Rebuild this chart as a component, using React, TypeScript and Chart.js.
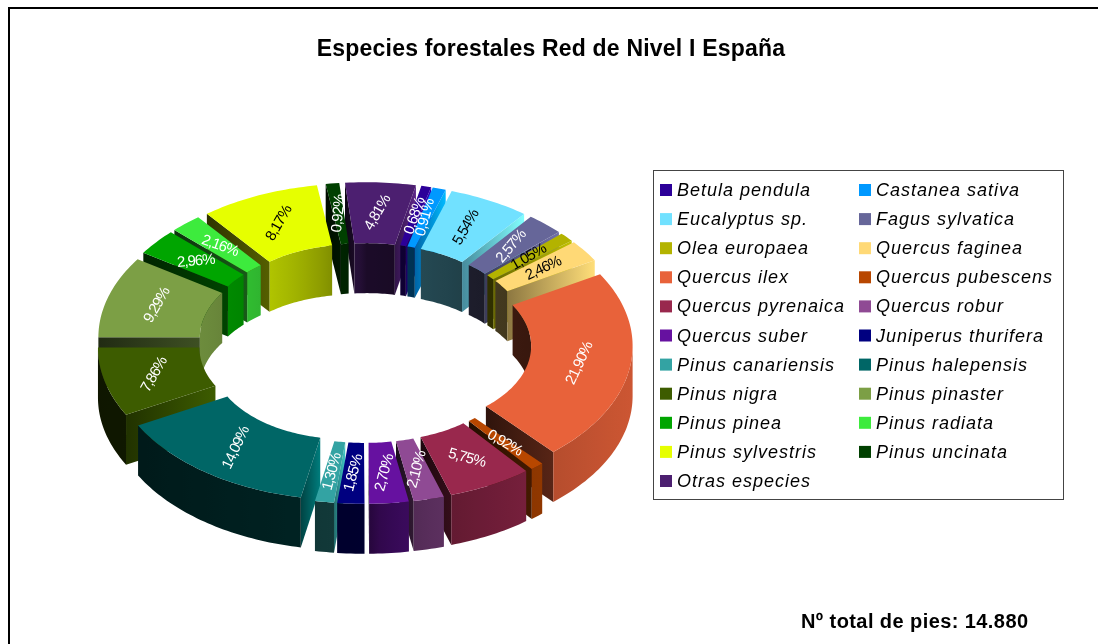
import React, { useEffect, useRef } from "react";
import { Chart, registerables } from "chart.js";

Chart.register(...registerables);

const species = [
  "Betula pendula", "Castanea sativa", "Eucalyptus sp.", "Fagus sylvatica", "Olea europaea",
  "Quercus faginea", "Quercus ilex", "Quercus pubescens", "Quercus pyrenaica", "Quercus robur",
  "Quercus suber", "Juniperus thurifera", "Pinus canariensis", "Pinus halepensis", "Pinus nigra",
  "Pinus pinaster", "Pinus pinea", "Pinus radiata", "Pinus sylvestris", "Pinus uncinata", "Otras especies",
];
const percentages = [
  0.68, 0.91, 5.54, 2.57, 1.05, 2.46, 21.9, 0.92, 5.75, 2.1, 2.7, 1.85, 1.3, 14.09, 7.86, 9.29, 2.96, 2.16, 8.17, 0.92, 4.81,
];
const colors = [
  "#2C0099", "#0099FF", "#71E1FF", "#666699", "#B3B300", "#FFD976", "#E8623A", "#B84700", "#99284D", "#8F4A94",
  "#6611A0", "#000080", "#33A3A3", "#006666", "#3D5C00", "#7C9F45", "#00A500", "#3DEB3D", "#E6FF00", "#004000", "#4C1F70",
];
const labelColors = [
  "#fff", "#fff", "#000", "#fff", "#000", "#000", "#fff", "#fff", "#fff", "#fff",
  "#fff", "#fff", "#fff", "#fff", "#fff", "#fff", "#fff", "#fff", "#000", "#fff", "#fff",
];
const labelTilts = [
  -72, -75, -60, -50, -30, -25, -65, 30, 15, -75, -75, -75, -75, -65, -60, -60, -5, 20, -60, -85, -60,
];
const title = "Especies forestales Red de Nivel I España";
const footnote = "Nº total de pies: 14.880";

const CX = 365, CY = 343, SY = 0.6, DEPTH = 50;

function shade(hex: string, b: number) {
  const n = parseInt(hex.slice(1), 16);
  const c = (v: number) => Math.max(0, Math.min(255, Math.round(v * b)));
  return `rgb(${c((n >> 16) & 255)},${c((n >> 8) & 255)},${c(n & 255)})`;
}
function brightness(nx: number) {
  return nx > 0 ? 0.36 + 0.52 * Math.sqrt(nx) : 0.36 + 0.12 * nx;
}

const ring3d = {
  id: "ring3d",
  beforeDatasetsDraw(chart: any) {
    const ctx = chart.ctx as CanvasRenderingContext2D;
    const arcs = chart.getDatasetMeta(0).data as any[];
    const slices = arcs.map((arc, i) => {
      const p = arc.getProps(["startAngle", "endAngle", "innerRadius", "outerRadius"], true);
      const mid = (p.startAngle + p.endAngle) / 2;
      const off = arc.options.offset || 0;
      return { i, ...p, mid, ox: Math.cos(mid) * off, oy: Math.sin(mid) * off };
    });
    slices.sort((a, b) => Math.sin(a.mid) * a.outerRadius - Math.sin(b.mid) * b.outerRadius);

    for (const s of slices) {
      const col = colors[s.i];
      const pt = (r: number, a: number, z: number): [number, number] => [
        CX + s.ox + r * Math.cos(a),
        CY + SY * (s.oy + r * Math.sin(a)) + z,
      ];
      const n = Math.max(2, Math.ceil((s.endAngle - s.startAngle) / 0.02));
      const da = (s.endAngle - s.startAngle) / n;
      const flat = (q: [number, number][], b: number) => {
        ctx.beginPath();
        q.forEach((v, k) => (k ? ctx.lineTo(v[0], v[1]) : ctx.moveTo(v[0], v[1])));
        ctx.closePath();
        const xs = q.map((v) => v[0]);
        const x0 = Math.min(...xs), x1 = Math.max(...xs);
        const g = ctx.createLinearGradient(x0, 0, Math.max(x1, x0 + 1), 0);
        g.addColorStop(0, shade(col, b * 0.75));
        g.addColorStop(1, shade(col, b * 1.4));
        ctx.fillStyle = g;
        ctx.fill();
      };
      // curved wall: brightness depends on the normal, and the normal on x only
      const curved = (r: number, sign: number, a0: number, a1: number) => {
        if (a1 <= a0) return;
        const steps = Math.max(2, Math.ceil((a1 - a0) / 0.02));
        ctx.beginPath();
        for (let k = 0; k <= steps; k++) {
          const v = pt(r, a0 + ((a1 - a0) * k) / steps, 0);
          k ? ctx.lineTo(v[0], v[1]) : ctx.moveTo(v[0], v[1]);
        }
        for (let k = steps; k >= 0; k--) {
          const v = pt(r, a0 + ((a1 - a0) * k) / steps, DEPTH);
          ctx.lineTo(v[0], v[1]);
        }
        ctx.closePath();
        const x0 = CX + s.ox - r, x1 = CX + s.ox + r;
        const g = ctx.createLinearGradient(x0, 0, x1, 0);
        for (let k = 0; k <= 40; k++) {
          const t = k / 40;
          g.addColorStop(t, shade(col, brightness(sign * (2 * t - 1))));
        }
        ctx.fillStyle = g;
        ctx.fill();
      };
      // visible range helpers: rim faces the viewer where sin(a) > 0, hole wall where sin(a) < 0
      const clipRange = (wantPositive: boolean): [number, number][] => {
        const out: [number, number][] = [];
        let cur: number | null = null;
        const N = 200;
        for (let k = 0; k <= N; k++) {
          const a = s.startAngle + ((s.endAngle - s.startAngle) * k) / N;
          const ok = wantPositive ? Math.sin(a) > 0 : Math.sin(a) < 0;
          if (ok && cur === null) cur = a;
          if ((!ok || k === N) && cur !== null) {
            out.push([cur, a]);
            cur = null;
          }
        }
        return out;
      };
      clipRange(false).forEach(([a0, a1]) => curved(s.innerRadius, -1, a0, a1));
      const startN = s.startAngle - Math.PI / 2;
      const endN = s.endAngle + Math.PI / 2;
      if (Math.sin(startN) > 0) {
        flat([pt(s.innerRadius, s.startAngle, 0), pt(s.outerRadius, s.startAngle, 0), pt(s.outerRadius, s.startAngle, DEPTH), pt(s.innerRadius, s.startAngle, DEPTH)], brightness(Math.cos(startN)));
      }
      if (Math.sin(endN) > 0) {
        flat([pt(s.innerRadius, s.endAngle, 0), pt(s.outerRadius, s.endAngle, 0), pt(s.outerRadius, s.endAngle, DEPTH), pt(s.innerRadius, s.endAngle, DEPTH)], brightness(Math.cos(endN)));
      }
      clipRange(true).forEach(([a0, a1]) => curved(s.outerRadius, 1, a0, a1));
      // top face
      ctx.beginPath();
      for (let k = 0; k <= n; k++) {
        const v = pt(s.outerRadius, s.startAngle + k * da, 0);
        k ? ctx.lineTo(v[0], v[1]) : ctx.moveTo(v[0], v[1]);
      }
      for (let k = n; k >= 0; k--) {
        const v = pt(s.innerRadius, s.startAngle + k * da, 0);
        ctx.lineTo(v[0], v[1]);
      }
      ctx.closePath();
      ctx.fillStyle = col;
      ctx.fill();
    }

    // value labels lying on the top faces
    ctx.save();
    ctx.font = '15px "Liberation Sans"';
    (ctx as any).letterSpacing = "-1px";
    ctx.textAlign = "center";
    ctx.textBaseline = "middle";
    for (const s of [...slices].sort((a, b) => a.i - b.i)) {
      const r = (s.innerRadius + s.outerRadius) / 2;
      const x = CX + s.ox + r * Math.cos(s.mid);
      const y = CY + SY * (s.oy + r * Math.sin(s.mid));
      ctx.save();
      ctx.translate(x, y);
      ctx.rotate((labelTilts[s.i] * Math.PI) / 180);
      ctx.fillStyle = labelColors[s.i];
      ctx.fillText(percentages[s.i].toFixed(2).replace(".", ",") + "%", 0, 0);
      ctx.restore();
    }
    ctx.restore();
    return false;
  },
  afterDraw(chart: any) {
    const ctx = chart.ctx as CanvasRenderingContext2D;
    ctx.save();
    // page frame
    ctx.fillStyle = "#000";
    ctx.fillRect(8, 7, 1090, 2);
    ctx.fillRect(8, 7, 2, 637);
    // title
    ctx.textBaseline = "middle";
    ctx.textAlign = "center";
    ctx.font = 'bold 23px "Liberation Sans"';
    (ctx as any).letterSpacing = "0.2px";
    ctx.fillText(title, 551, 50);
    // footnote
    ctx.textAlign = "left";
    ctx.font = 'bold 20px "Liberation Sans"';
    (ctx as any).letterSpacing = "0.42px";
    ctx.fillText(footnote, 801, 622);
    // legend
    ctx.strokeStyle = "#444";
    ctx.lineWidth = 1;
    ctx.strokeRect(653.5, 170.5, 410, 329);
    ctx.font = 'italic 18px "Liberation Sans"';
    (ctx as any).letterSpacing = "1px";
    species.forEach((name, i) => {
      const col = i % 2;
      const row = Math.floor(i / 2);
      const y = 190 + row * 29.1;
      const x = col ? 859 : 660;
      ctx.fillStyle = colors[i];
      ctx.fillRect(x, y - 6, 12, 12);
      ctx.fillStyle = "#000";
      ctx.fillText(name, x + 17, y + 1);
    });
    ctx.restore();
  },
};

export default function App() {
  const ref = useRef<HTMLCanvasElement>(null);
  useEffect(() => {
    document.body.style.margin = "0";
    document.body.style.background = "#fff";
    const chart = new Chart(ref.current!, {
      type: "doughnut",
      data: {
        labels: species,
        datasets: [{ data: percentages, backgroundColor: colors, borderWidth: 0, offset: 32 }],
      },
      options: {
        responsive: false,
        animation: false,
        radius: 236,
        cutout: "57%",
        rotation: 12,
        plugins: { legend: { display: false }, title: { display: false }, tooltip: { enabled: false } },
      } as any,
      plugins: [ring3d as any],
    });
    return () => chart.destroy();
  }, []);
  return <canvas ref={ref} width={1098} height={644} style={{ display: "block" }} />;
}
